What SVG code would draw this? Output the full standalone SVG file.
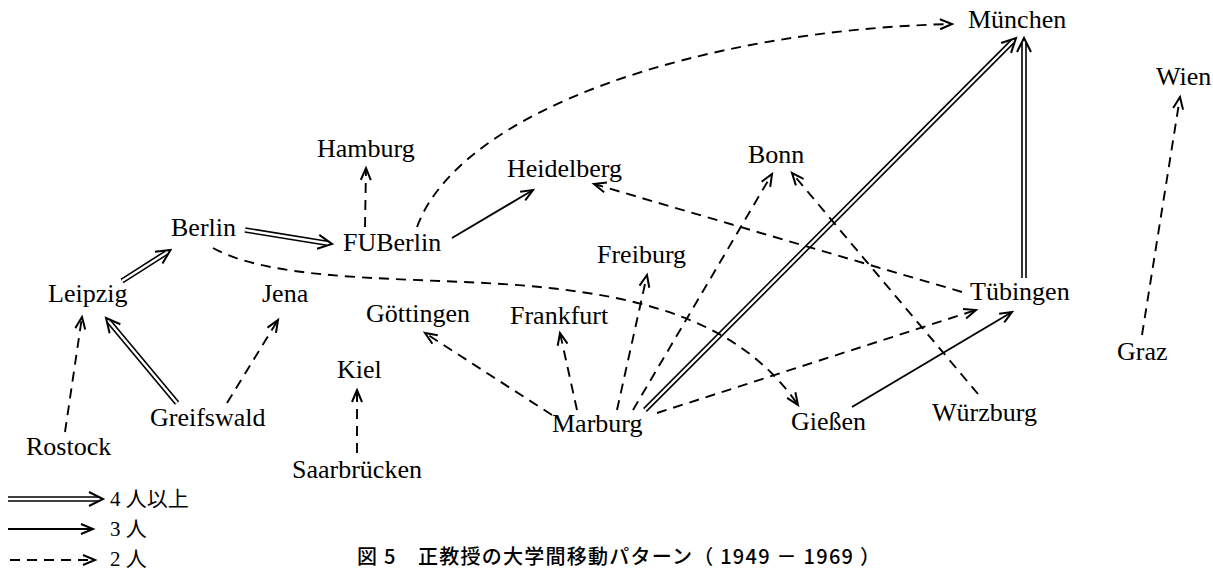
<svg xmlns="http://www.w3.org/2000/svg" width="1213" height="571" viewBox="0 0 1213 571">
<style>
.lbl{font-family:"Liberation Serif","Times New Roman",serif;font-size:26px;fill:#000}
.leg{font-family:"Liberation Serif","Noto Sans CJK JP",serif;font-size:21px;fill:#000}
.cap{font-family:"Noto Sans CJK JP","Liberation Sans",sans-serif;font-size:20px;font-weight:500;fill:#000}
.s{fill:none;stroke:#000;stroke-width:1.9;marker-end:url(#ah)}
.d{fill:none;stroke:#000;stroke-width:1.9;stroke-dasharray:10 7;marker-end:url(#ah)}
.o{stroke:#000;stroke-width:5.6;fill:none}
.i{stroke:#fff;stroke-width:2.4;fill:none}
.h{stroke:none;fill:none;marker-end:url(#ah2)}
</style>
<defs>
<marker id="ah" markerUnits="userSpaceOnUse" markerWidth="20" markerHeight="20" refX="13" refY="6" orient="auto" overflow="visible">
<path d="M1,1 L13,6 L1,11" fill="none" stroke="#000" stroke-width="2" stroke-dasharray="none"/>
</marker>
<marker id="ah2" markerUnits="userSpaceOnUse" markerWidth="24" markerHeight="24" refX="15" refY="8" orient="auto" overflow="visible">
<path d="M1,1 L15,8 L1,15" fill="none" stroke="#000" stroke-width="2"/>
</marker>
</defs>
<rect width="1213" height="571" fill="#fff"/>
<g id="connectors">
<path class="o" d="M245,230 L327.1,243.2"/><path class="i" d="M245,230 L327.1,243.2"/><path class="h" d="M245,230 L332,244"/>
<path class="o" d="M122,281 L166,253"/><path class="i" d="M122,281 L166,253"/><path class="h" d="M122,281 L170.5,250"/>
<path class="o" d="M177,403 L109.2,321.8"/><path class="i" d="M177,403 L109.2,321.8"/><path class="h" d="M177,403 L106,318"/>
<path class="o" d="M645,410 L1012.5,41.5"/><path class="i" d="M645,410 L1012.5,41.5"/><path class="h" d="M645,410 L1016,38"/>
<path class="o" d="M1024,278 L1024,43"/><path class="i" d="M1024,278 L1024,43"/><path class="h" d="M1024,278 L1024,38"/>
<path class="s" d="M452,238 L533,190"/>
<path class="s" d="M852,407 L1012,312"/>
<path class="d" d="M65,432 L82,317"/>
<path class="d" d="M227,403 L278,320"/>
<path class="d" d="M213,248 C280,285 430,276 540,287 C640,297 740,320 798,405"/>
<path class="d" d="M365,227 L366,168"/>
<path class="d" d="M417,227 C460,110 700,30 952,24"/>
<path class="d" d="M962,292 L594,184"/>
<path class="d" d="M978,394 L792,173"/>
<path class="d" d="M633,410 L772,174"/>
<path class="d" d="M657,413 L976,310"/>
<path class="d" d="M552,415 L425,333"/>
<path class="d" d="M577,410 L560,333"/>
<path class="d" d="M617,410 L647,275"/>
<path class="d" d="M357,453 L357,390"/>
<path class="d" d="M1142,335 L1180,97"/>
</g>
<g id="n-muenchen"><text class="lbl" x="968" y="28">München</text></g>
<g id="n-wien"><text class="lbl" x="1156" y="85">Wien</text></g>
<g id="n-hamburg"><text class="lbl" x="317" y="157">Hamburg</text></g>
<g id="n-heidelberg"><text class="lbl" x="507" y="177">Heidelberg</text></g>
<g id="n-bonn"><text class="lbl" x="748" y="163">Bonn</text></g>
<g id="n-berlin"><text class="lbl" x="171" y="236">Berlin</text></g>
<g id="n-fuberlin"><text class="lbl" x="343" y="251">FUBerlin</text></g>
<g id="n-freiburg"><text class="lbl" x="597" y="263">Freiburg</text></g>
<g id="n-leipzig"><text class="lbl" x="48" y="302">Leipzig</text></g>
<g id="n-jena"><text class="lbl" x="262" y="302">Jena</text></g>
<g id="n-tuebingen"><text class="lbl" x="970" y="300">Tübingen</text></g>
<g id="n-goettingen"><text class="lbl" x="366" y="322">Göttingen</text></g>
<g id="n-frankfurt"><text class="lbl" x="510" y="324">Frankfurt</text></g>
<g id="n-graz"><text class="lbl" x="1117" y="360">Graz</text></g>
<g id="n-kiel"><text class="lbl" x="337" y="378">Kiel</text></g>
<g id="n-greifswald"><text class="lbl" x="150" y="426">Greifswald</text></g>
<g id="n-marburg"><text class="lbl" x="552" y="432">Marburg</text></g>
<g id="n-giessen"><text class="lbl" x="791" y="430">Gießen</text></g>
<g id="n-wuerzburg"><text class="lbl" x="932" y="421">Würzburg</text></g>
<g id="n-rostock"><text class="lbl" x="26" y="455">Rostock</text></g>
<g id="n-saarbruecken"><text class="lbl" x="292" y="478">Saarbrücken</text></g>
<g id="legend">
<path class="o" d="M8,499 L98,499"/><path class="i" d="M8,499 L98,499"/><path class="h" d="M8,499 L103,499"/>
<path class="s" d="M8,529 L93,529"/>
<path class="d" d="M10,560 L95,560"/>
<text class="leg" x="110" y="506">4 人以上</text>
<text class="leg" x="110" y="536">3 人</text>
<text class="leg" x="110" y="566">2 人</text>
</g>
<g id="caption"><text class="cap" x="357" y="564" textLength="523" lengthAdjust="spacing">図 5　正教授の大学間移動パターン（ 1949 － 1969 ）</text></g>
</svg>
